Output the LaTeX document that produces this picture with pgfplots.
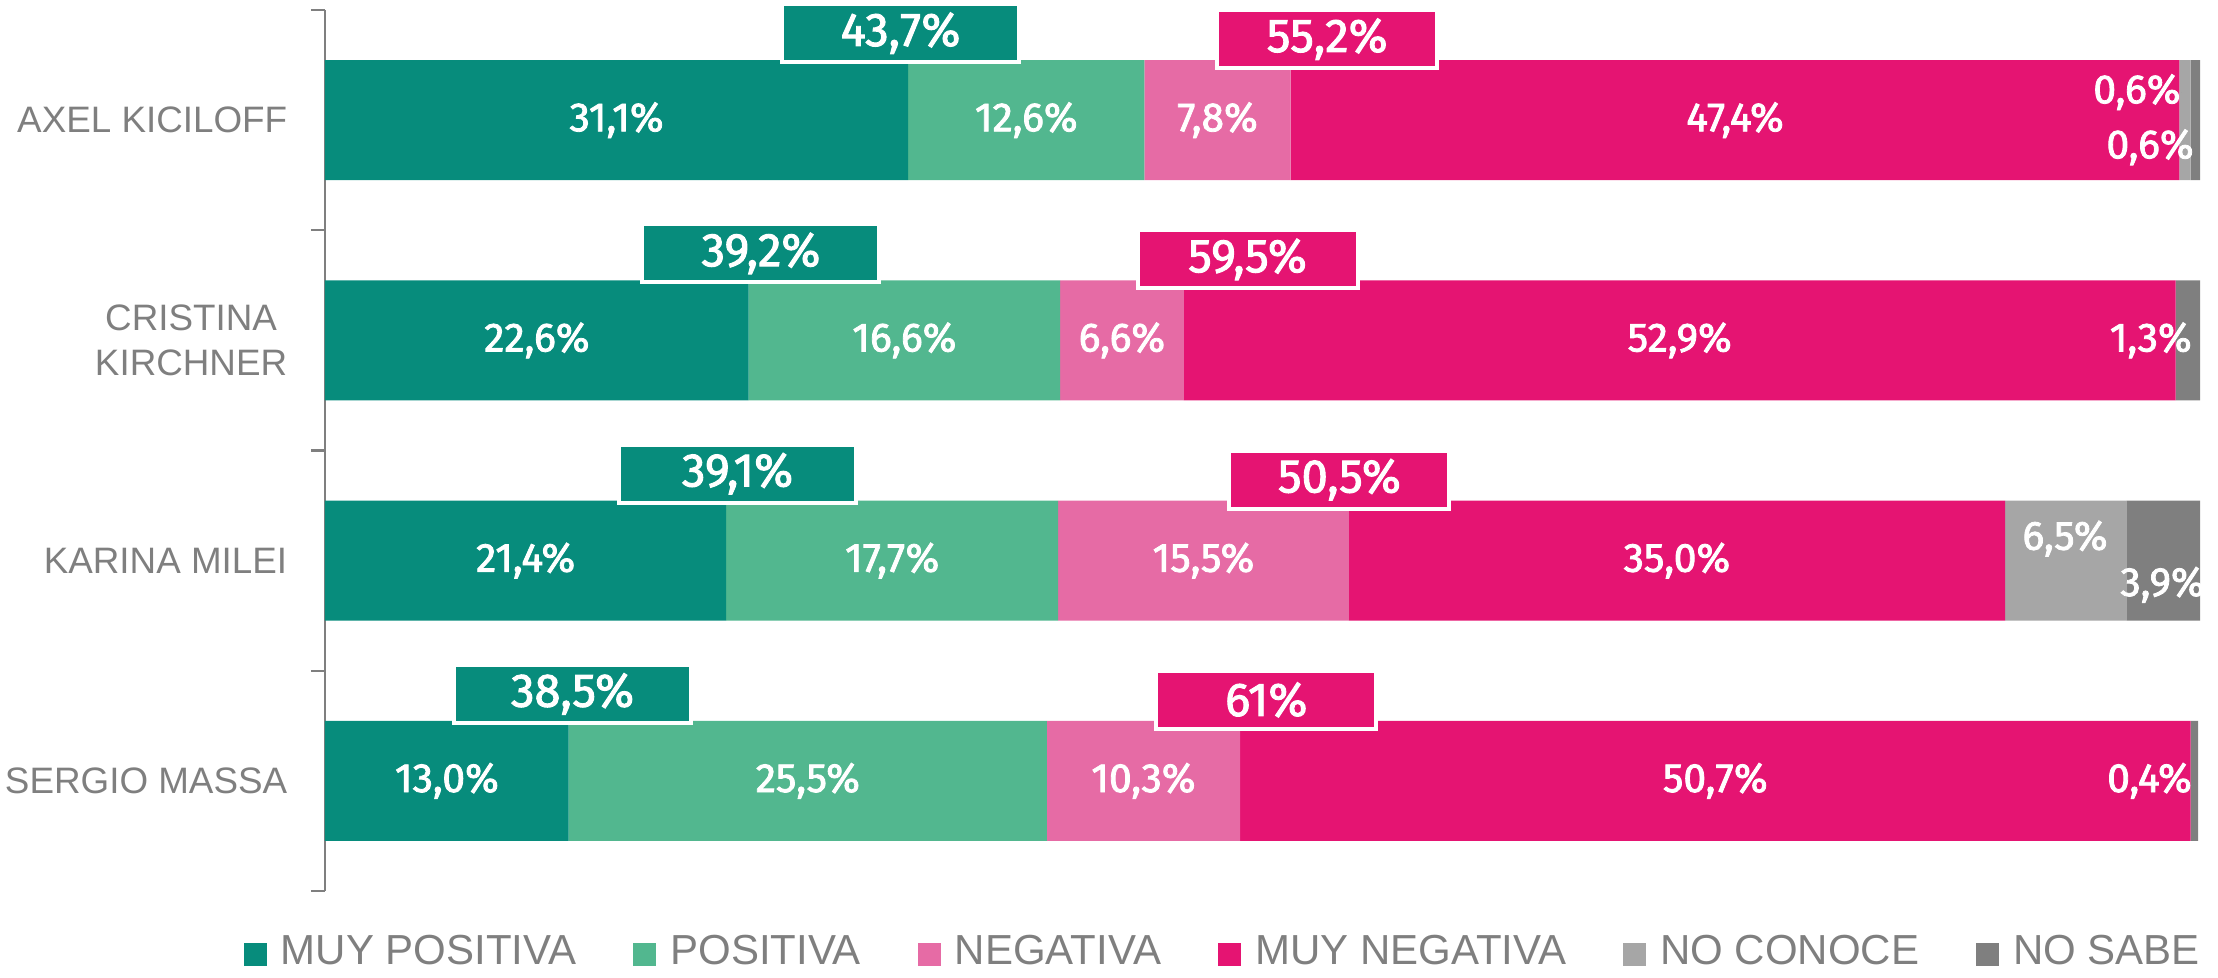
\documentclass[border=0pt]{standalone}
\usepackage{fontspec}
\setmainfont{Liberation Sans}
\newfontfamily\numfont{Fira Sans}[FakeBold=2]
\usepackage{pgfplots}
\pgfplotsset{compat=1.18}
\definecolor{cMpos}{HTML}{078C7C}
\definecolor{cPos}{HTML}{52B78F}
\definecolor{cNeg}{HTML}{E66BA5}
\definecolor{cMneg}{HTML}{E51472}
\definecolor{cNoc}{HTML}{A6A6A6}
\definecolor{cNos}{HTML}{7F7F7F}
\definecolor{cTxt}{HTML}{7F7F7F}
\begin{document}
\begin{tikzpicture}
\path (-81.25pt,-21.5pt) rectangle (473.25pt,222.75pt);
\begin{axis}[
  scale only axis, width=468.75pt, height=220.25pt,
  xbar stacked, bar width=0.545,
  xmin=0, xmax=100, ymin=-0.5, ymax=3.5, y dir=reverse,
  enlargelimits=false,
  axis x line=none, axis y line*=left,
  y axis line style={-, draw=cTxt, line width=0.6pt},
  xtick=\empty,
  ytick={0,1,2,3},
  yticklabels={AXEL KICILOFF,{CRISTINA\\KIRCHNER},KARINA MILEI,SERGIO MASSA},
  yticklabel style={align=center, font=\fontsize{9.2}{11.25}\selectfont, text=cTxt, inner sep=0pt, xshift=-9.25pt},
  major tick length=0pt,
  minor ytick={-0.5,0.5,1.5,2.5,3.5},
  minor tick length=3.5pt,
  tick align=outside,
  tick style={draw=cTxt, line width=0.6pt},
  legend columns=6,
  legend style={draw=none, fill=none, inner sep=0pt, outer sep=0pt,
    at={(1,-0.0897)}, anchor=south east,
    font=\fontsize{10.5}{12}\selectfont, text=cTxt, nodes={inner sep=0pt},
    /tikz/every even column/.append style={column sep=14.25pt},
    /tikz/every odd column/.append style={column sep=3.5pt}},
]
\addplot[fill=cMpos, draw=none, legend image code/.code={\fill[cMpos] (0pt,-3.4pt) rectangle (5.75pt,2.35pt);}]
  coordinates {(31.1,0) (22.6,1) (21.4,2) (13.0,3)};
\addplot[fill=cPos, draw=none, legend image code/.code={\fill[cPos] (0pt,-3.4pt) rectangle (5.75pt,2.35pt);}]
  coordinates {(12.6,0) (16.6,1) (17.7,2) (25.5,3)};
\addplot[fill=cNeg, draw=none, legend image code/.code={\fill[cNeg] (0pt,-3.4pt) rectangle (5.75pt,2.35pt);}]
  coordinates {(7.8,0) (6.6,1) (15.5,2) (10.3,3)};
\addplot[fill=cMneg, draw=none, legend image code/.code={\fill[cMneg] (0pt,-3.4pt) rectangle (5.75pt,2.35pt);}]
  coordinates {(47.4,0) (52.9,1) (35.0,2) (50.7,3)};
\addplot[fill=cNoc, draw=none, legend image code/.code={\fill[cNoc] (0pt,-3.4pt) rectangle (5.75pt,2.35pt);}]
  coordinates {(0.6,0) (0,1) (6.5,2) (0,3)};
\addplot[fill=cNos, draw=none, legend image code/.code={\fill[cNos] (0pt,-3.4pt) rectangle (5.75pt,2.35pt);}]
  coordinates {(0.6,0) (1.3,1) (3.9,2) (0.4,3)};
\legend{MUY POSITIVA, POSITIVA, NEGATIVA, MUY NEGATIVA, NO CONOCE, NO SABE}
\end{axis}
\begin{axis}[
  scale only axis, width=468.75pt, height=220.25pt,
  xmin=0, xmax=100, ymin=-0.5, ymax=3.5, y dir=reverse,
  enlargelimits=false, hide axis, clip=false]
% centred labels inside the bars
\addplot[only marks, mark=*, mark size=0pt, mark options={draw=none,fill=none},
  point meta=explicit symbolic, nodes near coords={\pgfplotspointmeta\%},
  every node near coord/.style={font=\numfont\fontsize{10.2}{12}\selectfont, text=white, anchor=center, inner sep=0pt}]
  table[meta=l]{
x y l
15.55 0 31,1
37.4 0 12,6
47.6 0 7,8
75.2 0 47,4
11.3 1 22,6
30.9 1 16,6
42.5 1 6,6
72.25 1 52,9
10.7 2 21,4
30.25 2 17,7
46.85 2 15,5
72.1 2 35,0
92.8 1.9 6,5
98.0 2.11 3,9
6.5 3 13,0
25.75 3 25,5
43.65 3 10,3
74.15 3 50,7
};
% right-aligned small labels
\addplot[only marks, mark=*, mark size=0pt, mark options={draw=none,fill=none},
  point meta=explicit symbolic, nodes near coords={\pgfplotspointmeta\%},
  every node near coord/.style={font=\numfont\fontsize{10.2}{12}\selectfont, text=white, anchor=east, inner sep=0pt}]
  table[meta=l]{
x y l
99.0 -0.127 0,6
99.7 0.123 0,6
99.6 1 1,3
99.6 3 0,4
};
% positive totals
\addplot[only marks, mark=*, mark size=0pt, mark options={draw=none,fill=none},
  point meta=explicit symbolic, nodes near coords={\pgfplotspointmeta\%},
  every node near coord/.style={fill=cMpos, draw=white, line width=1pt, minimum width=59.25pt, minimum height=14.5pt, anchor=south, yshift=-0.5pt, inner sep=0pt, outer sep=0pt, text=white, font=\numfont\fontsize{11.8}{13}\selectfont}]
  table[meta=l]{
x y l
30.7 -0.2725 43,7
23.25 0.7275 39,2
22.0 1.7275 39,1
13.2 2.7275 38,5
};
% negative totals
\addplot[only marks, mark=*, mark size=0pt, mark options={draw=none,fill=none},
  point meta=explicit symbolic, nodes near coords={\pgfplotspointmeta\%},
  every node near coord/.style={fill=cMneg, draw=white, line width=1pt, minimum width=55pt, minimum height=14.5pt, anchor=south, yshift=-2pt, inner sep=0pt, outer sep=0pt, text=white, font=\numfont\fontsize{11.8}{13}\selectfont}]
  table[meta=l]{
x y l
53.45 -0.2725 55,2
49.2 0.7275 59,5
54.1 1.7275 50,5
50.2 2.7275 61
};
\end{axis}
\end{tikzpicture}
\end{document}
